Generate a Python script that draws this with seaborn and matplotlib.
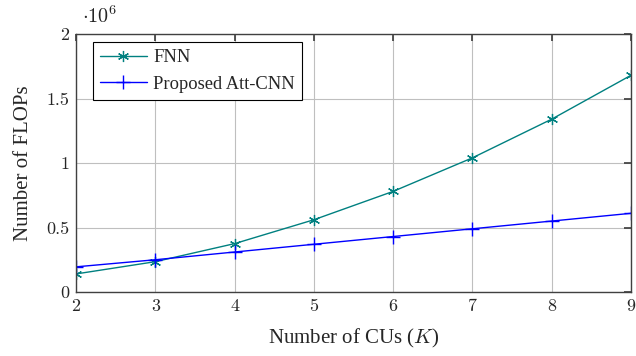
import matplotlib
matplotlib.use("Agg")
import matplotlib.pyplot as plt
import seaborn as sns
import pandas as pd
from matplotlib.ticker import FuncFormatter

K = [2, 3, 4, 5, 6, 7, 8, 9]
fnn = [0.14e6, 0.235e6, 0.375e6, 0.56e6, 0.78e6, 1.04e6, 1.34e6, 1.68e6]
att_cnn = [0.195e6, 0.25e6, 0.31e6, 0.37e6, 0.43e6, 0.49e6, 0.55e6, 0.61e6]
series_names = ["FNN", "Proposed Att-CNN"]
yticks = [0, 0.5e6, 1e6, 1.5e6, 2e6]

sns.set_theme(style="white")
plt.rcParams["font.family"] = ["Liberation Serif", "DejaVu Serif"]
plt.rcParams["mathtext.fontset"] = "cm"

fig = plt.figure(figsize=(6.36, 3.56), dpi=100)
ax = fig.add_axes([76/636, 1-292/356, (631-76)/636, (292-34)/356])

teal = (0, 0.5, 0.5)
blue = (0, 0, 1)
df1 = pd.DataFrame({"K": K, "v": fnn})
df2 = pd.DataFrame({"K": K, "v": att_cnn})
sns.lineplot(data=df1, x="K", y="v", ax=ax, color=teal, marker=(6, 2, 0),
             markersize=8, markeredgewidth=0.9, markeredgecolor=teal, markerfacecolor=teal,
             linewidth=1.0, label=series_names[0])
sns.lineplot(data=df2, x="K", y="v", ax=ax, color=blue, marker="+",
             markersize=10, markeredgewidth=1.0, markeredgecolor=blue, markerfacecolor=blue,
             linewidth=1.0, label=series_names[1])

ax.set_xlim(2, 9)
ax.set_ylim(0, 2e6)
ax.set_xticks(K)
ax.set_yticks(yticks)
ax.yaxis.set_major_formatter(FuncFormatter(lambda v, p: ("%g" % (v / 1e6))))
ax.grid(True, color="#bfbfbf", linewidth=0.8)
ax.set_axisbelow(True)
for s in ax.spines.values():
    s.set_color("#404040")
    s.set_linewidth(1.0)
ax.tick_params(direction="in", length=5, color="#404040", labelsize=13, top=True, right=True,
               pad=5)
for lab in ax.get_xticklabels() + ax.get_yticklabels():
    lab.set_fontfamily(["cmr10", "DejaVu Serif"])
ax.set_xlabel("Number of CUs ($K$)", fontsize=15, labelpad=9)
ax.set_ylabel("Number of FLOPs", fontsize=15, labelpad=9)
ax.text(0.01, 1.025, r"$\cdot 10^{6}$", transform=ax.transAxes, fontsize=14.5, ha="left", va="bottom")

leg = ax.legend(loc="upper left", bbox_to_anchor=(17/555, 250/258), frameon=True, fancybox=False,
                edgecolor="black", fontsize=13.3, handlelength=2.5, handletextpad=0.35,
                borderpad=0.4, labelspacing=0.5, borderaxespad=0)
leg.get_frame().set_linewidth(0.8)
leg.get_frame().set_alpha(1)

fig.savefig("out.png", dpi=100)
